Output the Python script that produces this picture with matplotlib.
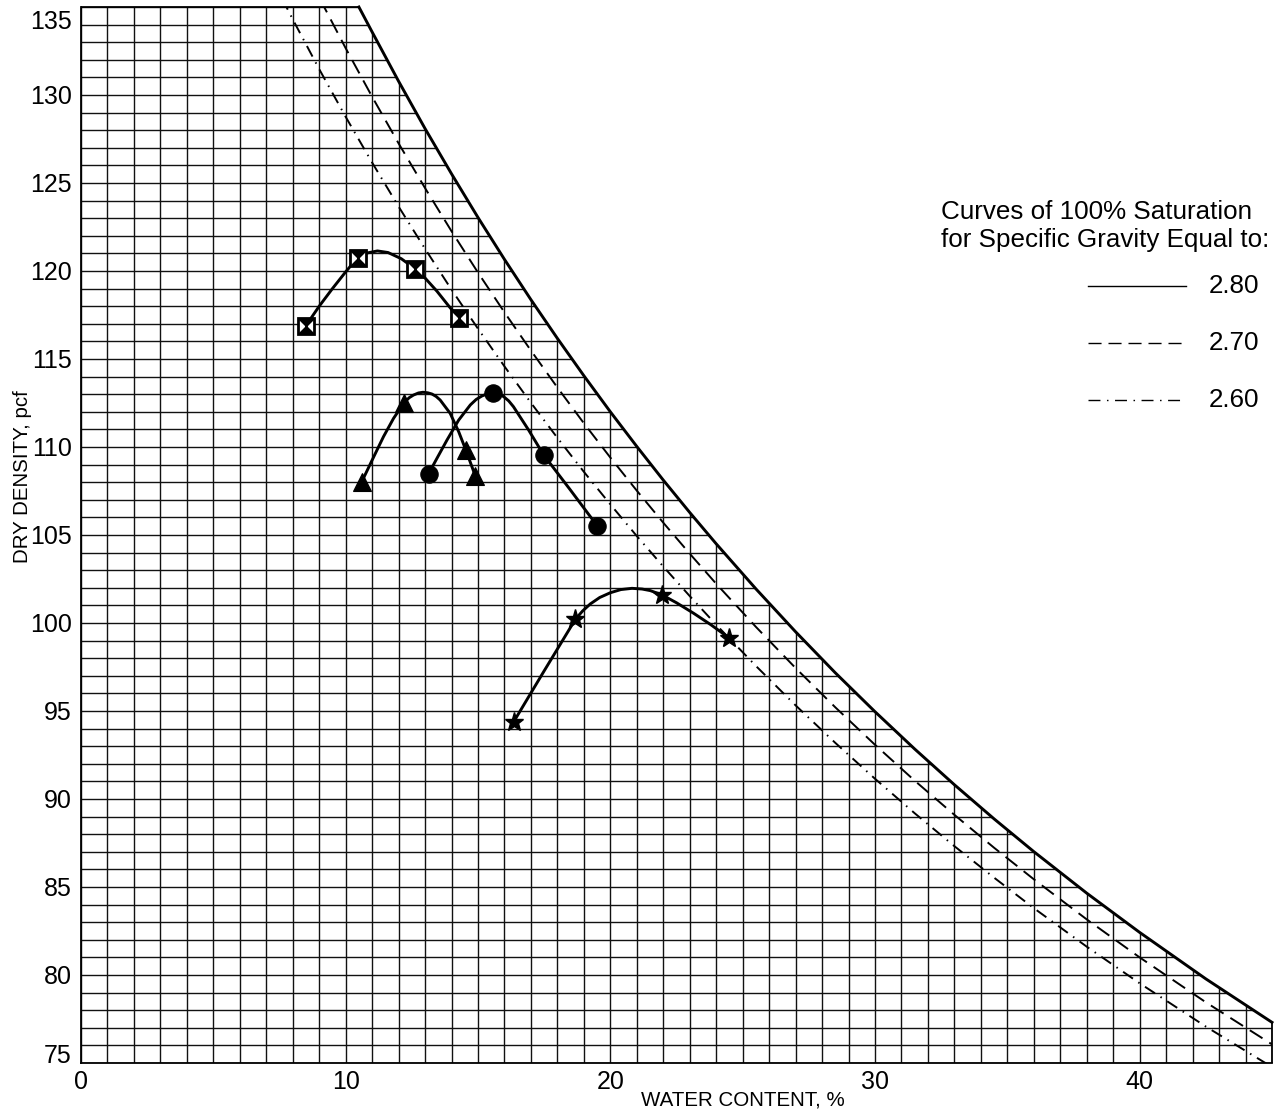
import numpy as np
import matplotlib
matplotlib.use("Agg")
import matplotlib.pyplot as plt
from matplotlib.path import Path
from matplotlib.patches import Polygon
from matplotlib.lines import Line2D
from matplotlib.transforms import ScaledTranslation

plt.rcParams['font.family'] = ['Liberation Sans', 'DejaVu Sans']
plt.rcParams['lines.scale_dashes'] = False

# 100% saturation curves (water content %, dry density pcf)
sat280_w = [10.5, 11, 12, 13, 14, 15, 16, 17, 18, 19, 20, 21, 22, 23, 24, 25.5, 27, 28.5,
            30, 31.5, 33, 34.5, 36, 38, 40, 42.5, 45]
sat280_d = [135.0, 133.58, 130.78, 128.09, 125.52, 123.04, 120.66, 118.37, 116.17, 114.05,
            112.0, 110.03, 108.12, 106.28, 104.5, 101.94, 99.5, 97.17, 94.96, 92.84, 90.81,
            88.87, 87.01, 84.65, 82.42, 79.78, 77.31]
sat270_w = [9, 10, 11, 12, 13, 14, 15, 16, 17, 18, 19, 20, 21, 22, 23, 24, 25.5, 27, 28.5,
            30, 31.5, 33, 34.5, 36, 38, 40, 42.5, 45]
sat270_d = [135.54, 132.66, 129.9, 127.25, 124.71, 122.26, 119.91, 117.65, 115.48, 113.38,
            111.35, 109.4, 107.52, 105.7, 103.94, 102.23, 99.78, 97.44, 95.21, 93.08, 91.04,
            89.1, 87.23, 85.44, 83.16, 81.0, 78.45, 76.06]
sat260_w = [7.5, 8, 9, 10, 11, 12, 13, 14, 15, 16, 17, 18, 19, 20, 21, 22, 23, 24, 25.5, 27,
            28.5, 30, 31.5, 33, 34.5, 36, 38, 40, 42.5, 45]
sat260_d = [135.77, 134.3, 131.47, 128.76, 126.16, 123.66, 121.26, 118.94, 116.72, 114.58,
            112.51, 110.52, 108.59, 106.74, 104.94, 103.21, 101.53, 99.9, 97.56, 95.32, 93.19,
            91.15, 89.19, 87.32, 85.53, 83.8, 81.61, 79.53, 77.07, 74.77]
gs_labels = ['2.80', '2.70', '2.60']

# test points
box_w = [8.5, 10.45, 12.62, 14.28]
box_d = [116.9, 120.76, 120.13, 117.31]
tri_w = [10.61, 12.21, 14.54, 14.9]
tri_d = [108.03, 112.52, 109.83, 108.35]
dot_w = [13.13, 15.57, 17.48, 19.5]
dot_d = [108.47, 113.09, 109.55, 105.53]
star_w = [16.35, 18.68, 21.95, 24.47]
star_d = [94.39, 100.21, 101.6, 99.17]

# hand drawn compaction curves
box_cw = [8.5, 9.0, 9.5, 10.0, 10.45, 10.8, 11.2, 11.6, 12.1, 12.62, 13.0, 13.45, 13.9, 14.28]
box_cd = [116.9, 118.0, 119.0, 119.95, 120.76, 121.02, 121.14, 121.05, 120.7, 120.13,
          119.6, 118.85, 118.0, 117.31]
tri_cw = [10.61, 11.05, 11.43, 11.81, 12.21, 12.4, 12.56, 12.75, 12.92, 13.1, 13.26, 13.42,
          13.57, 13.95, 14.27, 14.54, 14.9]
tri_cd = [108.03, 109.41, 110.59, 111.63, 112.52, 112.8, 112.95, 113.07, 113.11, 113.08,
          113.01, 112.87, 112.67, 111.91, 110.87, 109.83, 108.35]
dot_cw = [13.13, 13.45, 13.83, 14.27, 14.71, 14.93, 15.15, 15.37, 15.57, 15.78, 15.97, 16.16,
          16.34, 16.91, 17.48, 18.49, 19.5]
dot_cd = [108.47, 109.36, 110.4, 111.53, 112.39, 112.7, 112.9, 113.03, 113.09, 113.02,
          112.86, 112.62, 112.29, 110.97, 109.55, 107.56, 105.53]
star_cw = [16.35, 17.48, 18.68, 18.95, 19.24, 19.6, 20.0, 20.4, 20.82, 21.2, 21.51, 21.95,
           22.5, 23.15, 23.8, 24.47]
star_cd = [94.39, 97.23, 100.21, 100.68, 101.08, 101.45, 101.72, 101.9, 101.97, 101.93,
           101.84, 101.6, 101.15, 100.55, 99.9, 99.17]

xmin, xmax, ymin, ymax = 0, 45, 75, 135

fig = plt.figure(figsize=(12.75, 11.11), dpi=100)
ax = fig.add_axes([81 / 1275, 48 / 1111, 1191 / 1275, 1056 / 1111])
ax.set_xlim(xmin, xmax)
ax.set_ylim(ymin, ymax)

# 1-unit grid, only below the 2.80 curve
region = Polygon([(xmin, ymin), (xmin, ymax)] + list(zip(sat280_w, sat280_d)) + [(xmax, ymin)],
                 closed=True, transform=ax.transData)
vl = ax.vlines(np.arange(xmin, xmax + 1), ymin, ymax, colors='#111111', lw=1.0, zorder=1)
hl = ax.hlines(np.arange(ymin, ymax + 1), xmin, xmax, colors='#111111', lw=1.0, zorder=1)
vl.set_clip_path(region)
hl.set_clip_path(region)

# frame
for side in ['top', 'right']:
    ax.spines[side].set_visible(False)
for side in ['left', 'bottom']:
    ax.spines[side].set_linewidth(1.3)
ax.hlines(ymax, xmin, sat280_w[0], colors='black', lw=1.3, clip_on=False)
ax.vlines(xmax, ymin, sat280_d[-1], colors='black', lw=1.3, clip_on=False)

# saturation curves
styles = ['-', (0, (10.8, 5.8)), (0, (8.6, 4.7, 1.1, 4.7))]
ax.plot(sat280_w, sat280_d, color='black', lw=2.1, ls=styles[0], clip_on=False, zorder=3)
ax.plot(sat270_w, sat270_d, color='black', lw=1.4, ls=styles[1], zorder=3)
ax.plot(sat260_w, sat260_d, color='black', lw=1.4, ls=styles[2], zorder=3)

# compaction curves
for cw, cd in [(box_cw, box_cd), (tri_cw, tri_cd), (dot_cw, dot_cd), (star_cw, star_cd)]:
    ax.plot(cw, cd, color='black', lw=2.1, zorder=4)

hourglass = Path([(-1, 1), (1, 1), (0, 0), (-1, 1), (-1, -1), (1, -1), (0, 0), (-1, -1)],
                 [Path.MOVETO, Path.LINETO, Path.LINETO, Path.CLOSEPOLY,
                  Path.MOVETO, Path.LINETO, Path.LINETO, Path.CLOSEPOLY])
ax.plot(box_w, box_d, ls='none', marker='s', ms=11, mfc='white', mec='black', mew=2.0, zorder=5)
ax.plot(box_w, box_d, ls='none', marker=hourglass, ms=11, mfc='black', mec='black', mew=1.0, zorder=6)
ax.plot(tri_w, tri_d, ls='none', marker='^', ms=12.5, color='black', mew=0.8, zorder=5)
ax.plot(dot_w, dot_d, ls='none', marker='o', ms=12.5, color='black', mew=0.8, zorder=5)
ax.plot(star_w, star_d, ls='none', marker='*', ms=14, color='black', mew=1.0, zorder=5)

# ticks and labels
ax.set_xticks([0, 10, 20, 30, 40])
ax.set_yticks(np.arange(ymin, ymax + 1, 5))
ax.tick_params(length=0, labelsize=18)
ax.tick_params(axis='x', pad=5)
ax.tick_params(axis='y', pad=6.5)
ylabels = ax.get_yticklabels()
ylabels[0].set_va('baseline')
ylabels[-1].set_va('top')
ylabels[-1].set_transform(ylabels[-1].get_transform()
                          + ScaledTranslation(0, -3 / 100, fig.dpi_scale_trans))

ax.set_xlabel('WATER CONTENT, %', fontsize=14.8)
ax.xaxis.set_label_coords(0.5558, -0.0256)
ax.set_ylabel('DRY DENSITY, pcf', fontsize=14.8)
ax.yaxis.set_label_coords(-0.0415, 0.555)

# key
fig.text(941 / 1275, 1 - 212 / 1111, 'Curves of 100% Saturation', fontsize=18.7, va='center')
fig.text(941 / 1275, 1 - 240 / 1111, 'for Specific Gravity Equal to:', fontsize=18.7, va='center')
key_dashes = ['-', (0, (9.4, 5.0)), (0, (8.6, 4.7, 1.1, 4.7))]
for i, lab in enumerate(gs_labels):
    yk = 1 - (286 + 57 * i) / 1111
    fig.add_artist(Line2D([1088 / 1275, 1186 / 1275], [yk, yk], color='black', lw=1.0,
                          ls=key_dashes[i]))
    fig.text(1209 / 1275, yk, lab, fontsize=18.7, va='center')

fig.savefig('out.png', dpi=100)
